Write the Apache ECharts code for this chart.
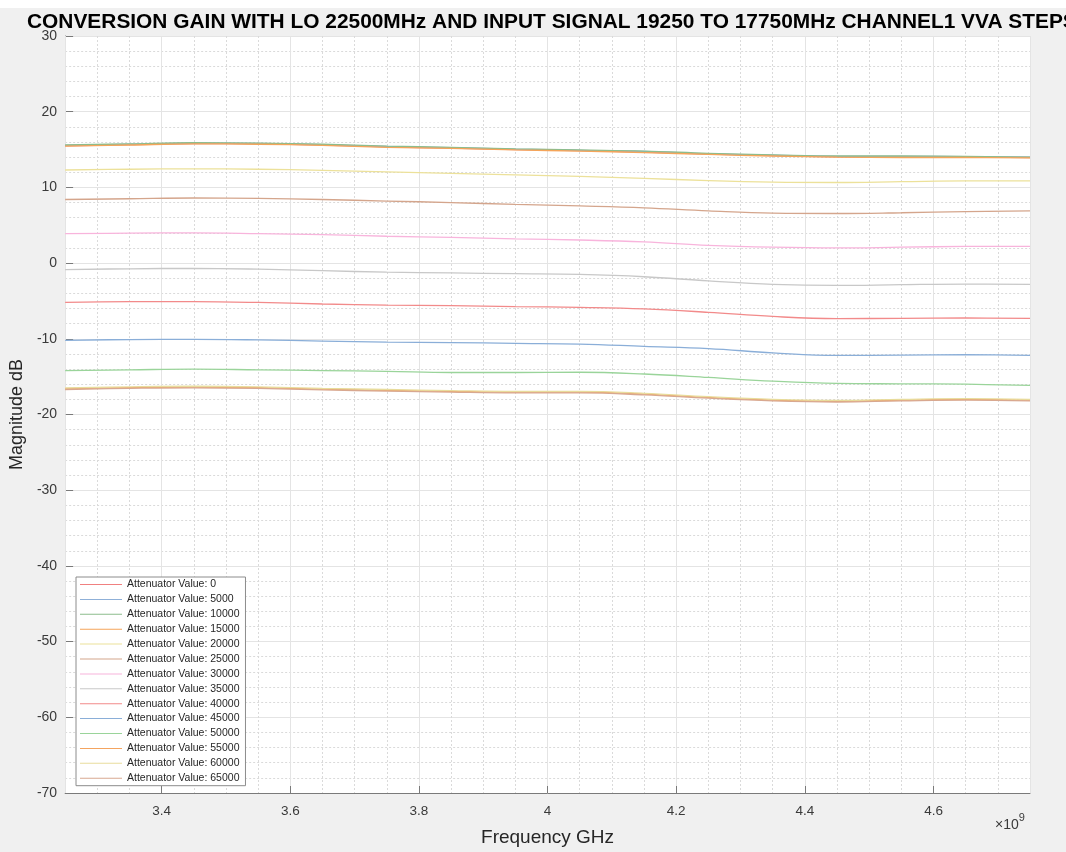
<!DOCTYPE html>
<html>
<head>
<meta charset="utf-8">
<script src="https://cdn.jsdelivr.net/npm/echarts@6/dist/echarts.min.js"></script>
<style>
html,body{margin:0;padding:0;background:#f0f0f0;}
#chart{width:1066px;height:852px;}
</style>
</head>
<body>
<div id="chart"></div>
<script>
// Frequency in GHz (axis shows x10^9 Hz)
var freqGHz = [3.25, 3.35, 3.45, 3.55, 3.65, 3.75, 3.85, 3.95, 4.05, 4.15, 4.25, 4.35, 4.45, 4.55, 4.65, 4.75];

var seriesNames = ['Attenuator Value: 0','Attenuator Value: 5000','Attenuator Value: 10000','Attenuator Value: 15000',
  'Attenuator Value: 20000','Attenuator Value: 25000','Attenuator Value: 30000','Attenuator Value: 35000',
  'Attenuator Value: 40000','Attenuator Value: 45000','Attenuator Value: 50000','Attenuator Value: 55000',
  'Attenuator Value: 60000','Attenuator Value: 65000'];

var seriesColors = ['#f08080','#8fb0d8','#8dbd8d','#f5a55a','#ece19a','#d4a58c','#f8b4dc','#c8c8c8',
  '#f28a8a','#8aaed8','#9ad49a','#f4a460','#e8dc9c','#d8a890'];

var att0     = [15.50, 15.65, 15.80, 15.75, 15.60, 15.35, 15.20, 15.00, 14.85, 14.65, 14.40, 14.20, 14.05, 14.00, 14.00, 13.95];
var att5000  = [15.55, 15.70, 15.85, 15.80, 15.65, 15.40, 15.25, 15.05, 14.90, 14.75, 14.45, 14.25, 14.10, 14.10, 14.05, 14.00];
var att10000 = [15.60, 15.75, 15.90, 15.85, 15.70, 15.45, 15.30, 15.10, 14.95, 14.80, 14.50, 14.30, 14.15, 14.15, 14.10, 14.00];
var att15000 = [15.45, 15.60, 15.75, 15.70, 15.55, 15.30, 15.15, 14.95, 14.80, 14.60, 14.35, 14.15, 14.00, 13.95, 13.95, 13.90];
var att20000 = [12.30, 12.40, 12.45, 12.40, 12.25, 12.05, 11.85, 11.65, 11.45, 11.20, 10.90, 10.70, 10.65, 10.75, 10.85, 10.85];
var att25000 = [8.40, 8.50, 8.60, 8.55, 8.40, 8.20, 8.00, 7.75, 7.55, 7.30, 6.90, 6.60, 6.55, 6.65, 6.80, 6.90];
var att30000 = [3.90, 3.95, 4.00, 3.90, 3.75, 3.55, 3.40, 3.20, 3.05, 2.80, 2.35, 2.10, 2.00, 2.10, 2.20, 2.22];
var att35000 = [-0.85, -0.75, -0.70, -0.80, -1.00, -1.20, -1.30, -1.40, -1.50, -1.80, -2.35, -2.80, -2.95, -2.85, -2.78, -2.80];
var att40000 = [-5.20, -5.10, -5.10, -5.20, -5.40, -5.55, -5.62, -5.75, -5.85, -6.05, -6.50, -7.05, -7.33, -7.30, -7.25, -7.30];
var att45000 = [-10.20, -10.10, -10.07, -10.15, -10.30, -10.45, -10.50, -10.60, -10.70, -11.00, -11.30, -11.85, -12.20, -12.15, -12.10, -12.20];
var att50000 = [-14.20, -14.10, -14.00, -14.10, -14.20, -14.30, -14.45, -14.45, -14.42, -14.65, -15.10, -15.60, -15.90, -15.95, -16.00, -16.15];
var att55000 = [-16.60, -16.45, -16.37, -16.45, -16.65, -16.80, -16.95, -17.05, -17.05, -17.30, -17.75, -18.10, -18.25, -18.10, -18.00, -18.10];
var att60000 = [-16.50, -16.35, -16.27, -16.35, -16.55, -16.70, -16.85, -16.95, -16.95, -17.20, -17.65, -18.00, -18.15, -18.00, -17.90, -18.00];
var att65000 = [-16.70, -16.55, -16.47, -16.55, -16.75, -16.90, -17.05, -17.15, -17.15, -17.40, -17.85, -18.20, -18.35, -18.20, -18.10, -18.20];

var allData = [att0, att5000, att10000, att15000, att20000, att25000, att30000, att35000,
  att40000, att45000, att50000, att55000, att60000, att65000];

var yTicks = [30, 20, 10, 0, -10, -20, -30, -40, -50, -60, -70];

var chart = echarts.init(document.getElementById('chart'), null, {renderer: 'canvas'});

var series = allData.map(function (vals, i) {
  return {
    name: seriesNames[i],
    type: 'line',
    xAxisIndex: 0,
    yAxisIndex: 0,
    data: freqGHz.map(function (f, j) { return [f, vals[j]]; }),
    symbol: 'none',
    smooth: 0.4,
    lineStyle: {width: 1.3, color: seriesColors[i]},
    itemStyle: {color: seriesColors[i]},
    emphasis: {disabled: true},
    animation: false
  };
});

var font = 'Liberation Sans, Arial, Helvetica, sans-serif';

chart.setOption({
  backgroundColor: '#f0f0f0',
  animation: false,
  textStyle: {fontFamily: font},
  title: {
    text: 'CONVERSION GAIN WITH LO 22500MHz AND INPUT SIGNAL 19250 TO 17750MHz CHANNEL1 VVA STEPS',
    left: 22,
    top: 7,
    textStyle: {fontSize: 20.9, fontWeight: 'bold', color: '#000', fontFamily: font}
  },
  grid: {
    left: 64, right: 36, top: 36, bottom: 54,
    show: true, backgroundColor: '#ffffff', borderWidth: 0,
    containLabel: false
  },
  legend: {
    orient: 'vertical',
    left: 76,
    top: 577,
    backgroundColor: '#ffffff',
    borderColor: '#8c8c8c',
    borderWidth: 1,
    borderRadius: 0,
    padding: [2, 6, 2, 4],
    itemWidth: 42,
    itemHeight: 10,
    itemGap: 3.9,
    selectedMode: false,
    textStyle: {fontSize: 10.5, color: '#262626', lineHeight: 10, fontFamily: font},
    data: seriesNames.map(function (n, i) {
      return {name: n, icon: 'path://M0,0 L42,0 L42,1 L0,1 Z', itemStyle: {color: seriesColors[i]}};
    })
  },
  xAxis: [
    {
      type: 'value',
      min: 3.25,
      max: 4.75,
      splitNumber: 7,
      name: 'Frequency GHz',
      nameLocation: 'middle',
      nameGap: 35,
      nameTextStyle: {fontSize: 19, color: '#262626', fontFamily: font},
      axisLine: {show: true, onZero: false, lineStyle: {color: '#7a7a7a', width: 1}},
      axisTick: {show: true, inside: true, length: 7, lineStyle: {color: '#7a7a7a'}},
      axisLabel: {
        fontSize: 13.5, color: '#3a3a3a', margin: 11, fontFamily: font,
        showMinLabel: false, showMaxLabel: false,
        formatter: function (v) { return String(Math.round(v * 10) / 10); }
      },
      splitLine: {show: true, lineStyle: {color: '#e4e4e4', width: 1, type: 'solid'}},
      z: 3
    },
    {
      type: 'value',
      min: 3.25,
      max: 4.75,
      interval: 0.05,
      position: 'bottom',
      axisLine: {show: false},
      axisTick: {show: false},
      axisLabel: {show: false},
      splitLine: {show: true, lineStyle: {color: '#dadada', width: 1, type: [2, 2]}},
      z: 1
    }
  ],
  yAxis: [
    {
      type: 'value',
      min: -70,
      max: 30,
      interval: 10,
      name: 'Magnitude dB',
      nameLocation: 'middle',
      nameGap: 36,
      nameRotate: 90,
      nameTextStyle: {fontSize: 18, color: '#262626', fontFamily: font},
      axisLine: {show: true, onZero: false, lineStyle: {color: '#7a7a7a', width: 1}},
      axisTick: {show: true, inside: true, length: 8, lineStyle: {color: '#7a7a7a'}},
      axisLabel: {fontSize: 14, color: '#3a3a3a', margin: 8, fontFamily: font},
      splitLine: {show: true, lineStyle: {color: '#e4e4e4', width: 1, type: 'solid'}},
      minorTick: {show: false, splitNumber: 5},
      minorSplitLine: {show: true, lineStyle: {color: '#dadada', width: 1, type: [2, 2]}}
    }
  ],
  graphic: [
    {
      type: 'rect', left: 0, top: 0, silent: true,
      shape: {width: 1066, height: 8}, style: {fill: '#ffffff'}
    },
    {
      type: 'text', left: 995, top: 812, silent: true,
      style: {
        text: '{a|\u00d710}{b|9}',
        rich: {
          a: {fontSize: 14, fill: '#3a3a3a', fontFamily: font, verticalAlign: 'bottom'},
          b: {fontSize: 11, fill: '#3a3a3a', fontFamily: font, verticalAlign: 'top', padding: [0, 0, 9, 0]}
        }
      }
    }
  ],
  series: series
});
</script>
</body>
</html>
